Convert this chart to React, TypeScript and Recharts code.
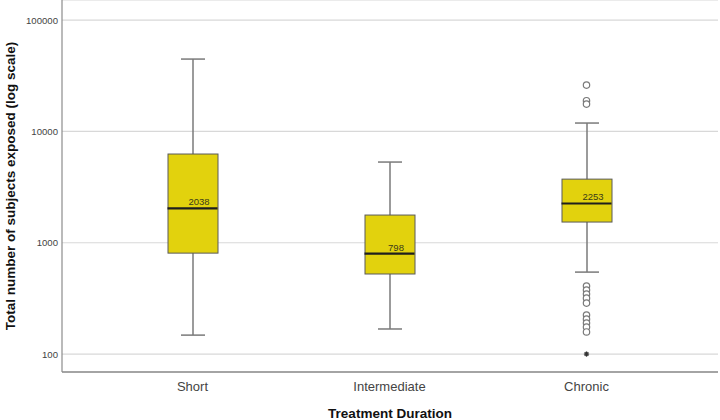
import React from 'react';
import { ComposedChart, Bar, Scatter, XAxis, YAxis, CartesianGrid } from 'recharts';

// Summary statistics per treatment duration group
const categories = ['Short', 'Intermediate', 'Chronic'];
const lowerWhisker = [148, 168, 545];
const quartile1 = [807, 524, 1535];
const medians = [2038, 798, 2253];
const quartile3 = [6270, 1774, 3730];
const upperWhisker = [44700, 5310, 11900];

// Individual points beyond the whiskers (Chronic group only)
const chronicOutliers = [26100, 18900, 17600, 408, 376, 346, 318, 287, 224, 206, 190, 175, 158];
const chronicExtremes = [100];

const yTicks = [100, 1000, 10000, 100000];

const summary = categories.map((name, i) => ({
  name,
  whisker: [lowerWhisker[i], upperWhisker[i]],
  box: [quartile1[i], quartile3[i]],
  median: medians[i],
}));

const outlierPoints = chronicOutliers.map((value) => ({ name: 'Chronic', value }));
const extremePoints = chronicExtremes.map((value) => ({ name: 'Chronic', value }));

const FONT = '"Liberation Sans", Arial, sans-serif';
const BOX_FILL = '#e2d20d';
const BOX_WIDTH = 50;
const CAP_WIDTH = 24;
const X_PAD = { left: 32, right: 33 };

const WhiskerShape = (props: any) => {
  const { x, y, width, height } = props;
  const cx = x + width / 2;
  return (
    <g stroke="#7a7a7a" strokeWidth={1.5}>
      <line x1={cx} y1={y} x2={cx} y2={y + height} />
      <line x1={x} y1={y} x2={x + width} y2={y} />
      <line x1={x} y1={y + height} x2={x + width} y2={y + height} />
    </g>
  );
};

const BoxShape = (props: any) => {
  const { x, y, width, height } = props;
  return <rect x={x} y={y} width={width} height={height} fill={BOX_FILL} stroke="#5a5a5a" strokeWidth={1} />;
};

const MedianShape = (props: any) => {
  const { cx, cy, payload } = props;
  return (
    <g>
      <line x1={cx - BOX_WIDTH / 2} y1={cy} x2={cx + BOX_WIDTH / 2} y2={cy} stroke="#1e1e1e" strokeWidth={2.2} />
      <text x={cx + 6.5} y={cy - 3} textAnchor="middle" fontSize={9.5} fill="#3a3a1a" fontFamily={FONT}>
        {payload.median}
      </text>
    </g>
  );
};

const OutlierShape = (props: any) => {
  const { cx, cy } = props;
  return <circle cx={cx} cy={cy} r={3.2} fill="#ffffff" stroke="#7a7a7a" strokeWidth={1.2} />;
};

const ExtremeShape = (props: any) => {
  const { cx, cy } = props;
  const r = 2.6;
  return (
    <g stroke="#333" strokeWidth={1.2}>
      <line x1={cx - r} y1={cy} x2={cx + r} y2={cy} />
      <line x1={cx} y1={cy - r} x2={cx} y2={cy + r} />
      <line x1={cx - r * 0.7} y1={cy - r * 0.7} x2={cx + r * 0.7} y2={cy + r * 0.7} />
      <line x1={cx - r * 0.7} y1={cy + r * 0.7} x2={cx + r * 0.7} y2={cy - r * 0.7} />
    </g>
  );
};

const YTick = (props: any) => {
  const { x, y, payload } = props;
  return (
    <text x={x - 4} y={y + 3.5} textAnchor="end" fontSize={9.6} fill="#444" fontFamily={FONT}>
      {payload.value}
    </text>
  );
};

const XTick = (props: any) => {
  const { x, y, payload } = props;
  return (
    <text x={x} y={y + 18.5} textAnchor="middle" fontSize={13} fill="#444" fontFamily={FONT}>
      {payload.value}
    </text>
  );
};

const XTitle = (props: any) => {
  const { viewBox } = props;
  return (
    <text
      x={viewBox.x + viewBox.width / 2}
      y={viewBox.y + 46}
      textAnchor="middle"
      fontSize={13.5}
      fontWeight="bold"
      fill="#111"
      fontFamily={FONT}
    >
      Treatment Duration
    </text>
  );
};

const YTitle = (props: any) => {
  const { viewBox } = props;
  const cx = viewBox.x + 14.5;
  const cy = viewBox.y + viewBox.height / 2;
  return (
    <text
      x={cx}
      y={cy}
      transform={`rotate(-90, ${cx}, ${cy})`}
      textAnchor="middle"
      fontSize={13.5}
      fontWeight="bold"
      fill="#111"
      fontFamily={FONT}
    >
      Total number of subjects exposed (log scale)
    </text>
  );
};

export default function App() {
  return (
    <div style={{ position: 'absolute', left: 0, top: 0, background: '#fff' }}>
      <ComposedChart width={720} height={420} data={summary} margin={{ top: 0, right: 2, bottom: 0, left: 0 }}>
        <CartesianGrid horizontal vertical={false} stroke="#d8d8d8" strokeWidth={1.2} />
        <XAxis
          xAxisId="main"
          dataKey="name"
          type="category"
          allowDuplicatedCategory={false}
          padding={X_PAD}
          height={48}
          tickLine={false}
          tickSize={0}
          tickMargin={0}
          tick={<XTick />}
          axisLine={{ stroke: '#8c8c8c', strokeWidth: 1.6 }}
          label={<XTitle />}
        />
        <XAxis
          xAxisId="whisk"
          dataKey="name"
          type="category"
          allowDuplicatedCategory={false}
          padding={X_PAD}
          hide
        />
        <YAxis
          type="number"
          scale="log"
          domain={[69, 151700]}
          allowDataOverflow
          ticks={yTicks}
          width={62}
          tickLine={false}
          tickSize={0}
          tickMargin={0}
          tick={<YTick />}
          axisLine={{ stroke: '#8c8c8c', strokeWidth: 1.2 }}
          label={<YTitle />}
        />
        <Bar xAxisId="whisk" dataKey="whisker" barSize={CAP_WIDTH} shape={<WhiskerShape />} isAnimationActive={false} />
        <Bar xAxisId="main" dataKey="box" barSize={BOX_WIDTH} shape={<BoxShape />} isAnimationActive={false} />
        <Scatter xAxisId="main" dataKey="median" shape={<MedianShape />} isAnimationActive={false} />
        <Scatter xAxisId="main" data={outlierPoints} dataKey="value" shape={<OutlierShape />} isAnimationActive={false} />
        <Scatter xAxisId="main" data={extremePoints} dataKey="value" shape={<ExtremeShape />} isAnimationActive={false} />
      </ComposedChart>
    </div>
  );
}
